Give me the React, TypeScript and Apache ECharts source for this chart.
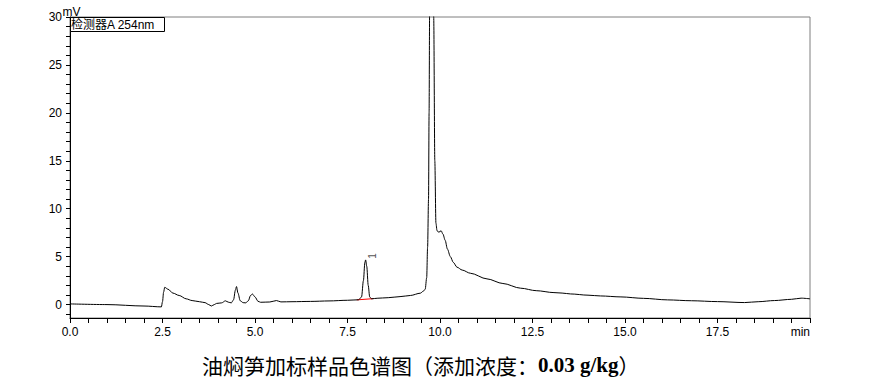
import React, { useEffect, useRef } from "react";
import * as echarts from "echarts";

// Retention time (min) and detector signal (mV)
const retentionTimes = [
  0, 1.0, 2.0, 2.47, 2.5, 2.53, 2.56, 2.65, 2.78, 2.95, 3.14, 3.3, 3.5, 3.65, 3.75, 3.82, 3.9, 3.96,
  4.1, 4.2, 4.28, 4.36, 4.42, 4.47, 4.5, 4.54, 4.6, 4.68, 4.75, 4.82, 4.88, 4.93, 5.0, 5.08, 5.15,
  5.4, 5.58, 5.7, 6.0, 6.5, 7.0, 7.5, 7.8, 7.88, 7.93, 7.97, 7.99, 8.02, 8.06, 8.1, 8.15, 8.3, 8.6,
  8.92, 9.2, 9.47, 9.55, 9.6, 9.64, 9.665, 9.69, 9.705, 9.72, 9.75, 9.775, 9.8, 9.83, 9.86, 9.89,
  9.92, 9.97, 10.03, 10.08, 10.14, 10.2, 10.28, 10.36, 10.46, 10.6, 10.82, 11.27, 11.7, 12.18, 12.6,
  13.08, 13.3, 13.53, 14.0, 14.34, 14.89, 15.5, 16.15, 16.8, 17.5, 18.23, 18.6, 19.04, 19.5, 19.76, 20.0,
];
const signalMv = [
  0.07, 0.0, -0.15, -0.24, 0.3, 1.3, 1.8, 1.6, 1.2, 0.95, 0.6, 0.42, 0.3, 0.2, 0.0, -0.15, 0.0, 0.12,
  0.18, 0.39, 0.25, 0.18, 0.5, 1.5, 1.88, 1.2, 0.4, 0.2, 0.18, 0.4, 0.95, 1.1, 0.8, 0.35, 0.24,
  0.27, 0.42, 0.28, 0.3, 0.33, 0.38, 0.45, 0.5, 0.8, 2.5, 4.4, 4.66, 4.0, 2.0, 0.8, 0.6, 0.66, 0.72,
  0.83, 0.95, 1.19, 1.4, 1.6, 2.8, 6, 11, 20, 31, 60, 70, 55, 30, 15, 8.5,
  7.7, 7.55, 7.7, 7.35, 6.7, 5.8, 5.0, 4.4, 3.9, 3.6, 3.27, 2.68, 2.2, 1.71, 1.45,
  1.25, 1.2, 1.11, 0.98, 0.9, 0.8, 0.65, 0.49, 0.4, 0.31, 0.21, 0.3, 0.42, 0.55, 0.67, 0.6,
];

// Integration baseline of peak 1
const baselineTimes = [7.75, 8.2];
const baselineMv = [0.49, 0.62];

// Peak annotations
const peakTimes = [7.99];
const peakHeights = [4.66];
const peakNames = ["1"];

// Axis ticks / labels
const xTickLabels = ["0.0", "2.5", "5.0", "7.5", "10.0", "12.5", "15.0", "17.5", "min"];
const yLabelValues = [0, 5, 10, 15, 20, 25, 30];
const yTickValues = [-1, 0, 1, 2, 3, 4, 5, 6, 7, 8, 9, 10, 11, 12, 13, 14, 15, 16, 17, 18, 19, 20, 21, 22, 23, 24, 25, 26, 27, 28, 29, 30];

const detectorLabel = "检测器A 254nm";
const yUnit = "mV";
const captionMain = "油焖笋加标样品色谱图（添加浓度：";
const captionValue = "0.03 g/kg";
const captionEnd = "）";

export default function App() {
  const ref = useRef<HTMLDivElement>(null);

  useEffect(() => {
    if (!ref.current) return;
    const chart = echarts.init(ref.current, null, { renderer: "svg" });
    const lineData = retentionTimes.map((t, i) => [t, signalMv[i]]);
    const baseData = baselineTimes.map((t, i) => [t, baselineMv[i]]);
    const peakData = peakTimes.map((t, i) => ({ value: [t, peakHeights[i]], name: peakNames[i] }));
    const sans = "Liberation Sans, Arial, Noto Sans CJK SC, sans-serif";

    chart.setOption({
      animation: false,
      backgroundColor: "#fff",
      grid: {
        left: 70,
        right: 66,
        top: 17,
        bottom: 62,
        show: true,
        borderColor: "#7f7f7f",
        borderWidth: 1,
        containLabel: false,
        outerBoundsMode: "none",
      },
      xAxis: {
        type: "value",
        min: 0,
        max: 20,
        interval: 2.5,
        axisLine: { show: true, onZero: false, lineStyle: { color: "#000", width: 1 } },
        axisTick: { show: true, length: 5, lineStyle: { color: "#000" } },
        minorTick: { show: true, splitNumber: 5, length: 5, lineStyle: { color: "#000" } },
        splitLine: { show: false },
        minorSplitLine: { show: false },
        axisLabel: {
          color: "#000",
          fontSize: 12,
          fontFamily: sans,
          margin: 8,
          alignMaxLabel: "right",
          formatter: (v: number) => xTickLabels[Math.round(v / 2.5)] ?? "",
        },
      },
      yAxis: {
        type: "value",
        min: -1.4,
        max: 30,
        axisLine: { show: true, onZero: false, lineStyle: { color: "#000", width: 1 } },
        axisTick: { show: true, length: 4, customValues: yTickValues, lineStyle: { color: "#000" } },
        splitLine: { show: false },
        axisLabel: {
          color: "#000",
          fontSize: 12,
          fontFamily: sans,
          margin: 8,
          customValues: yLabelValues,
        },
      },
      series: [
        {
          type: "line",
          data: lineData,
          showSymbol: false,
          smooth: 0.3,
          smoothMonotone: "x",
          clip: true,
          lineStyle: { color: "#000", width: 1 },
          z: 3,
        },
        {
          type: "line",
          data: baseData,
          showSymbol: false,
          lineStyle: { color: "#ff0000", width: 1 },
          z: 2,
        },
        {
          type: "scatter",
          data: peakData,
          symbolSize: 0,
          z: 4,
          label: {
            show: true,
            position: "inside",
            formatter: (p: any) => p.name,
            rotate: 90,
            offset: [4, 7],
            color: "#222",
            fontSize: 10,
            fontFamily: sans,
          },
        },
      ],
      graphic: [
        {
          type: "text",
          x: 71.5,
          y: 11.5,
          z: 11,
          style: {
            text: yUnit,
            fill: "#000",
            fontSize: 12,
            lineHeight: 12,
            fontFamily: sans,
            verticalAlign: "middle",
            align: "center",
          },
        },
        {
          type: "rect",
          shape: { x: 70.5, y: 17.5, width: 94, height: 14 },
          style: { fill: "#fff", stroke: "#000", lineWidth: 1 },
          z: 10,
        },
        {
          type: "text",
          x: 71,
          y: 24.5,
          z: 11,
          style: {
            text: detectorLabel,
            fill: "#000",
            fontSize: 12,
            fontFamily: sans,
            verticalAlign: "middle",
            align: "left",
          },
        },
        {
          type: "text",
          x: 202,
          y: 365,
          z: 11,
          style: {
            text: `{c|${captionMain}}{n|${captionValue}}{c|${captionEnd}}`,
            verticalAlign: "middle",
            align: "left",
            rich: {
              c: { fontFamily: "Noto Sans CJK SC", fontSize: 21, fill: "#000", color: "#000" },
              n: { fontFamily: "Liberation Serif", fontWeight: "bold", fontSize: 21, fill: "#000", color: "#000" },
            },
          },
        },
      ],
    });

    return () => chart.dispose();
  }, []);

  return (
    <div
      ref={ref}
      style={{ position: "absolute", left: 0, top: 0, width: 876, height: 380 }}
    />
  );
}
